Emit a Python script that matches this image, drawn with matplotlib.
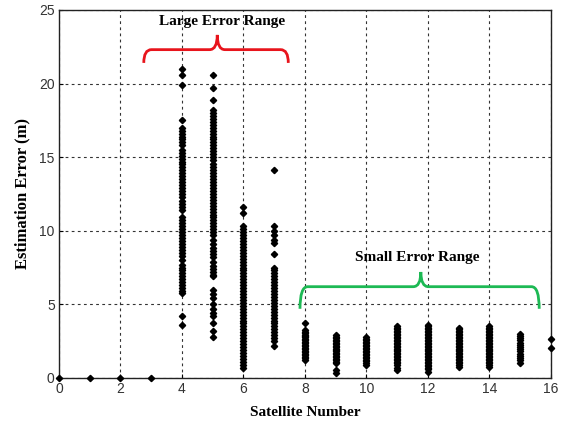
import matplotlib
matplotlib.use("Agg")
import matplotlib.pyplot as plt
from matplotlib.path import Path
from matplotlib.patches import PathPatch

# ---- data: estimation error per satellite number ----
sat_numbers = [0, 1, 2, 3, 4, 5, 6, 7, 8, 9, 10, 11, 12, 13, 14, 15, 16]

col0 = [0.0]
col1 = [0.0]
col2 = [0.0]
col3 = [0.0]
col4 = [21.0, 20.6, 19.9, 17.5, 17.0, 16.8, 16.6, 16.4, 16.2, 16.0, 15.8, 15.5,
        15.3, 15.1, 14.9, 14.7, 14.5, 14.3, 14.1, 13.9, 13.7, 13.5, 13.3, 13.1,
        12.9, 12.7, 12.5, 12.3, 12.0, 11.8, 11.6, 11.4, 10.9, 10.7, 10.5, 10.3,
        10.1, 9.9, 9.7, 9.5, 9.3, 9.1, 8.9, 8.7, 8.5, 8.3, 8.0, 7.7, 7.5, 7.3,
        7.1, 6.9, 6.7, 6.5, 6.3, 6.1, 5.9, 5.75, 4.2, 3.6]
col5 = [20.6, 19.7, 18.9, 18.2, 18.0, 17.8, 17.6, 17.4, 17.2, 17.0, 16.8, 16.6,
        16.4, 16.2, 16.0, 15.8, 15.6, 15.4, 15.2, 15.0, 14.8, 14.5, 14.3, 14.1,
        13.9, 13.7, 13.5, 13.3, 13.1, 12.9, 12.7, 12.5, 12.3, 12.1, 11.9, 11.7,
        11.5, 11.3, 11.1, 10.9, 10.7, 10.5, 10.3, 10.1, 9.9, 9.7, 9.4, 9.1, 8.8,
        8.6, 8.4, 8.2, 7.9, 7.6, 7.4, 7.2, 7.0, 6.9, 6.0, 5.7, 5.4, 5.0, 4.7,
        4.4, 4.2, 3.7, 3.2, 2.8]
col6 = [11.6, 11.2, 10.3, 10.1, 9.9, 9.7, 9.5, 9.3, 9.1, 8.9, 8.7, 8.5, 8.3,
        8.1, 7.9, 7.7, 7.5, 7.3, 7.1, 6.9, 6.7, 6.5, 6.3, 6.1, 5.9, 5.7, 5.5,
        5.3, 5.1, 4.9, 4.7, 4.5, 4.3, 4.1, 3.9, 3.7, 3.5, 3.3, 3.1, 2.9, 2.7,
        2.5, 2.3, 2.1, 1.9, 1.7, 1.5, 1.3, 1.1, 0.9, 0.7]
col7 = [14.1, 10.3, 10.0, 9.7, 9.4, 9.15, 8.4, 7.5, 7.3, 7.1, 6.9, 6.7, 6.5,
        6.3, 6.1, 5.9, 5.7, 5.5, 5.3, 5.1, 4.9, 4.7, 4.5, 4.3, 4.1, 3.9, 3.7,
        3.5, 3.3, 3.1, 2.9, 2.7, 2.5, 2.2]
col8 = [3.7, 3.26, 3.15, 3.05, 2.95, 2.85, 2.75, 2.65, 2.55, 2.45, 2.35, 2.25,
        2.15, 2.05, 1.95, 1.85, 1.75, 1.65, 1.55, 1.45, 1.35, 1.22]
col9 = [2.92, 2.8, 2.7, 2.6, 2.5, 2.4, 2.3, 2.2, 2.1, 2.0, 1.9, 1.8, 1.7, 1.6,
        1.5, 1.4, 1.3, 1.2, 1.1, 1.0, 0.54, 0.32]
col10 = [2.76, 2.65, 2.55, 2.45, 2.35, 2.25, 2.15, 2.05, 1.95, 1.85, 1.75, 1.65,
         1.55, 1.45, 1.35, 1.25, 1.15, 1.0, 0.88]
col11 = [3.5, 3.4, 3.3, 3.2, 3.1, 3.0, 2.9, 2.8, 2.7, 2.6, 2.5, 2.4, 2.3, 2.2,
         2.1, 2.0, 1.9, 1.8, 1.7, 1.6, 1.5, 1.4, 1.3, 1.2, 1.1, 1.0, 0.85, 0.7,
         0.55]
col12 = [3.6, 3.5, 3.4, 3.3, 3.2, 3.1, 3.0, 2.9, 2.8, 2.7, 2.6, 2.5, 2.4, 2.3,
         2.2, 2.1, 2.0, 1.9, 1.8, 1.7, 1.6, 1.5, 1.4, 1.3, 1.2, 1.1, 1.0, 0.9,
         0.8, 0.7, 0.6, 0.43]
col13 = [3.4, 3.3, 3.2, 3.1, 3.0, 2.9, 2.8, 2.7, 2.6, 2.5, 2.4, 2.3, 2.2, 2.1,
         2.0, 1.9, 1.8, 1.7, 1.6, 1.5, 1.4, 1.3, 1.2, 1.1, 1.0, 0.9, 0.77]
col14 = [3.5, 3.4, 3.3, 3.2, 3.1, 3.0, 2.9, 2.8, 2.7, 2.6, 2.5, 2.4, 2.3, 2.2,
         2.1, 2.0, 1.9, 1.8, 1.7, 1.6, 1.5, 1.4, 1.3, 1.2, 1.1, 1.0, 0.9, 0.77]
col15 = [3.0, 2.85, 2.7, 2.55, 2.4, 2.25, 2.1, 1.95, 1.8, 1.65, 1.5, 1.35, 1.2,
         1.04]
col16 = [2.63, 2.02]

errors = [col0, col1, col2, col3, col4, col5, col6, col7, col8, col9, col10,
          col11, col12, col13, col14, col15, col16]

x_ticks = [0, 2, 4, 6, 8, 10, 12, 14, 16]
y_ticks = [0, 5, 10, 15, 20, 25]

large_label = "Large Error Range"
small_label = "Small Error Range"

# ---- figure ----
fig = plt.figure(figsize=(5.61, 4.30), dpi=100)
ax = fig.add_axes([0.105, 0.121, 0.877, 0.856])

for s, vals in zip(sat_numbers, errors):
    ax.plot([s] * len(vals), vals, linestyle="none", marker="D",
            markersize=3.2, color="black", clip_on=False, zorder=3)

ax.set_xlim(0, 16)
ax.set_ylim(0, 25)
ax.set_xticks(x_ticks)
ax.set_yticks(y_ticks)
ax.grid(True, color="#333333", linestyle=(0, (2.5, 3)), linewidth=0.8)
ax.tick_params(direction="in", length=3, labelsize=10, labelcolor="#333333",
               pad=3, top=False, right=False)
for sp in ax.spines.values():
    sp.set_linewidth(1.0)
    sp.set_color("#222222")

serif = "Liberation Serif"
for lab in ax.get_xticklabels() + ax.get_yticklabels():
    lab.set_fontfamily("Liberation Sans")

ax.set_xlabel("Satellite Number", fontfamily=serif, fontweight="bold",
              fontsize=11, labelpad=7)
ax.set_ylabel("Estimation Error (m)", fontfamily=serif, fontweight="bold",
              fontsize=12, labelpad=6)


def brace(ax, x0, x1, xm, ybase, yend, ytip, color):
    rx = 0.25
    verts = [
        (x0, yend),
        (x0, ybase), (x0 + rx, ybase),
        (xm - rx, ybase),
        (xm, ybase), (xm, ytip),
        (xm, ybase), (xm + rx, ybase),
        (x1 - rx, ybase),
        (x1, ybase), (x1, yend),
    ]
    codes = [Path.MOVETO,
             Path.CURVE3, Path.CURVE3,
             Path.LINETO,
             Path.CURVE3, Path.CURVE3,
             Path.CURVE3, Path.CURVE3,
             Path.LINETO,
             Path.CURVE3, Path.CURVE3]
    p = PathPatch(Path(verts, codes), facecolor="none", edgecolor=color,
                  linewidth=2.0, clip_on=False, zorder=4)
    ax.add_patch(p)


brace(ax, 2.76, 7.46, 5.15, 22.3, 21.4, 23.3, "#e8141c")
brace(ax, 7.84, 15.62, 11.77, 6.2, 4.7, 7.2, "#1db954")

ax.text(5.3, 24.2, large_label, ha="center", va="center", fontfamily=serif,
        fontweight="bold", fontsize=11, zorder=5)
ax.text(11.65, 8.2, small_label, ha="center", va="center", fontfamily=serif,
        fontweight="bold", fontsize=11, zorder=5)

fig.savefig("out.png", dpi=100)
